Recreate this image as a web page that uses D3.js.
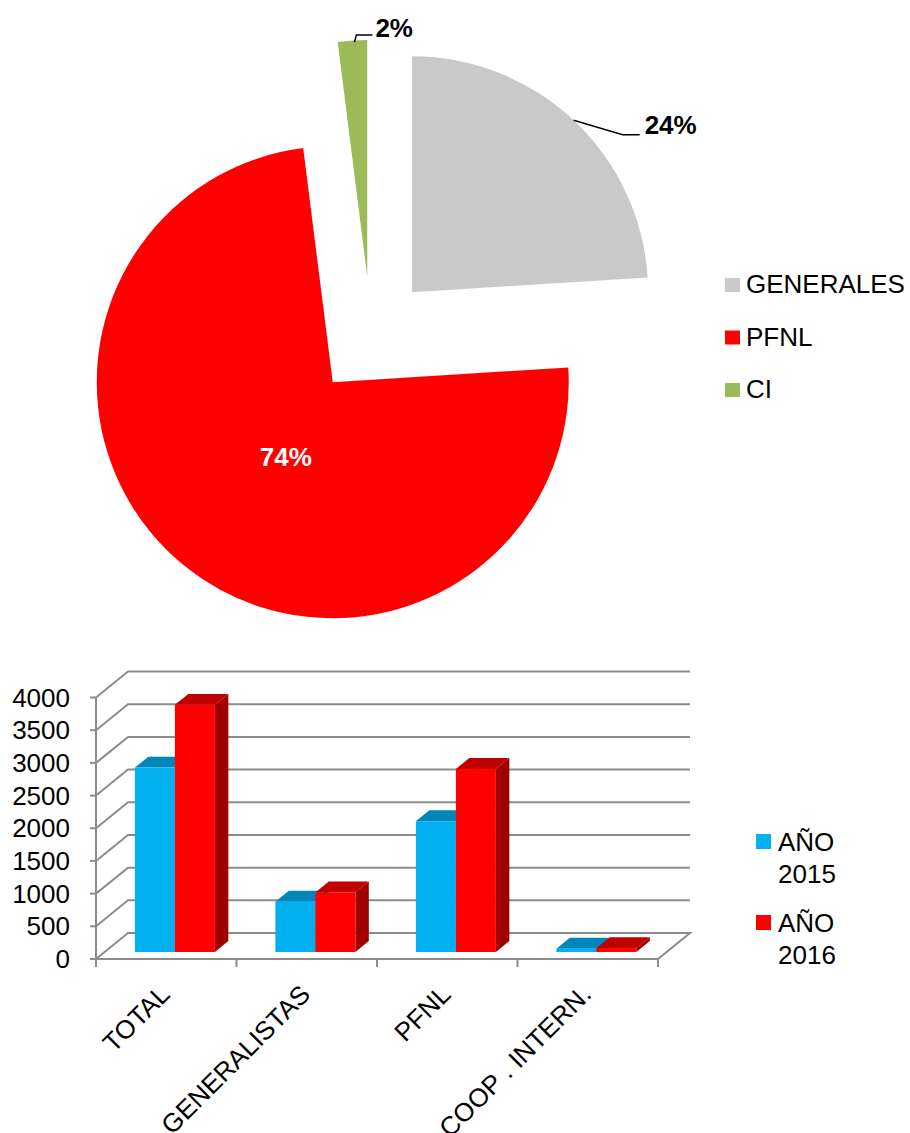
<!DOCTYPE html>
<html>
<head>
<meta charset="utf-8">
<script src="https://cdn.jsdelivr.net/npm/d3@7"></script>
<style>
  html, body { margin: 0; padding: 0; background: #fff; }
  svg { display: block; font-family: "Liberation Sans", Arial, Helvetica, sans-serif; }
</style>
</head>
<body>
<svg id="chart" width="910" height="1133"></svg>
<script>
// ---- Pie: share by programme ----
const pieLabels = ["GENERALES", "PFNL", "CI"];
const pieValues = [24, 74, 2];
const pieColors = ["#C9C9C9", "#FF0000", "#9BBB59"];

// ---- Bars: totals per year ----
const barCategories = ["TOTAL", "GENERALISTAS", "PFNL", "COOP . INTERN."];
const seriesNames = [["AÑO", "2015"], ["AÑO", "2016"]];
const values2015 = [2820, 770, 2000, 50];
const values2016 = [3780, 910, 2800, 60];
const yTicks = [0, 500, 1000, 1500, 2000, 2500, 3000, 3500, 4000];

const svg = d3.select("#chart");

// ================= PIE =================
const cx = 371, cy = 336, R = 236, explode = 60;
const pie = d3.pie().sort(null).startAngle(0).endAngle(2 * Math.PI);
const arcs = pie(pieValues);
const arc = d3.arc().innerRadius(0).outerRadius(R);
const polar = (a, r) => [Math.sin(a) * r, -Math.cos(a) * r];

const pieG = svg.append("g").attr("transform", `translate(${cx},${cy})`);
const slices = pieG.selectAll("g.slice").data(arcs).enter().append("g")
  .attr("class", "slice")
  .attr("transform", d => {
    const [ox, oy] = polar((d.startAngle + d.endAngle) / 2, explode);
    return `translate(${ox},${oy})`;
  });
slices.append("path").attr("d", arc).attr("fill", (d, i) => pieColors[i]);

// labels
function sliceApex(d) { return polar((d.startAngle + d.endAngle) / 2, explode); }

// 24% outside with leader line
{
  const d = arcs[0], mid = (d.startAngle + d.endAngle) / 2;
  const [ax, ay] = sliceApex(d);
  const [px, py] = polar(mid, R);
  const x0 = ax + px, y0 = ay + py;
  const x1 = x0 + 49, y1 = y0 + 14.5, x2 = x1 + 17;
  pieG.append("path").attr("d", `M${x0},${y0}L${x1},${y1}L${x2},${y1}`)
    .attr("fill", "none").attr("stroke", "#000").attr("stroke-width", 1.5);
  pieG.append("text").attr("x", x2 + 5).attr("y", y1 - 1)
    .attr("font-size", 26).attr("font-weight", "bold").text(d3.format(".0f")(d.data) + "%");
}
// 2% outside with leader line
{
  const d = arcs[2], mid = (d.startAngle + d.endAngle) / 2;
  const [ax, ay] = sliceApex(d);
  const [px, py] = polar(mid, R);
  const x0 = ax + px + 2, y0 = ay + py + 1.5;
  const x1 = x0 + 2, y1 = y0 - 7, x2 = x1 + 16;
  pieG.append("path").attr("d", `M${x0},${y0}L${x1},${y1}L${x2},${y1}`)
    .attr("fill", "none").attr("stroke", "#000").attr("stroke-width", 1.5);
  pieG.append("text").attr("x", x2 + 3).attr("y", y1 + 1.5)
    .attr("font-size", 26).attr("font-weight", "bold").text(d.data + "%");
}
// 74% inside
{
  const d = arcs[1], mid = (d.startAngle + d.endAngle) / 2;
  const [ax, ay] = sliceApex(d);
  const [px, py] = polar(mid, 80);
  pieG.append("text").attr("x", ax + px + 4).attr("y", ay + py + 22)
    .attr("text-anchor", "middle").attr("font-size", 26).attr("font-weight", "bold")
    .attr("fill", "#fff").text(d.data + "%");
}

// pie legend
const pieLeg = svg.append("g").attr("transform", "translate(725,293)");
pieLabels.forEach((lab, i) => {
  const g = pieLeg.append("g").attr("transform", `translate(0,${i * 52.5})`);
  g.append("rect").attr("x", 0).attr("y", -15).attr("width", 15).attr("height", 14).attr("fill", pieColors[i]);
  g.append("text").attr("x", 21).attr("y", 0).attr("font-size", 26).text(lab);
});

// ================= 3D BARS =================
const frontLeft = 96, frontRight = 658;
const depthX = 32, depthY = -26;
const x = d3.scaleBand().domain(barCategories).range([frontLeft, frontRight]).paddingInner(0).paddingOuter(0);
const y = d3.scaleLinear().domain([0, 4000]).range([959, 697.5]);

const gridColor = "#8C8C8C";
const bars = svg.append("g");

// gridlines (left wall + back wall)
yTicks.forEach(v => {
  const yy = y(v);
  bars.append("path")
    .attr("d", `M${frontLeft},${yy}L${frontLeft + depthX},${yy + depthY}L${frontRight + depthX},${yy + depthY}` +
      (v === 0 ? `L${frontRight},${yy}` : ""))
    .attr("fill", "none").attr("stroke", gridColor).attr("stroke-width", 2);
});

// front value axis with ticks
bars.append("line").attr("x1", frontLeft).attr("x2", frontLeft)
  .attr("y1", y(4000)).attr("y2", y(0)).attr("stroke", gridColor).attr("stroke-width", 2);
yTicks.forEach(v => {
  bars.append("line").attr("x1", frontLeft - 6).attr("x2", frontLeft)
    .attr("y1", y(v)).attr("y2", y(v)).attr("stroke", gridColor).attr("stroke-width", 2);
  bars.append("text").attr("x", 70).attr("y", y(v) + 9)
    .attr("text-anchor", "end").attr("font-size", 26).attr("fill", "#000").text(v);
});

// front category axis with ticks
bars.append("line").attr("x1", frontLeft - 6).attr("x2", frontRight)
  .attr("y1", y(0)).attr("y2", y(0)).attr("stroke", gridColor).attr("stroke-width", 2);
const tickXs = barCategories.map(c => x(c)).concat([frontRight]);
tickXs.forEach(tx => {
  bars.append("line").attr("x1", tx).attr("x2", tx).attr("y1", y(0)).attr("y2", y(0) + 8)
    .attr("stroke", gridColor).attr("stroke-width", 2);
});

// bar geometry: front face sits part-way into the floor depth
const f0 = 0.27, fDepth = 0.42;
const shiftX = f0 * depthX, shiftY = f0 * depthY;
const bdx = fDepth * depthX, bdy = fDepth * depthY;
const barW = 40;
const seriesStyle = [
  { values: values2015, front: "#00B0F0", top: "#0086B8", side: "#00709A" },
  { values: values2016, front: "#FF0000", top: "#C00000", side: "#A00000" }
];

barCategories.forEach((c, ci) => {
  seriesStyle.forEach((s, si) => {
    const xl = x(c) + (x.bandwidth() - 2 * barW) / 2 + shiftX + si * barW;
    const yb = y(0) + shiftY;
    const yt = y(s.values[ci]) + shiftY;
    const g = bars.append("g");
    g.append("path").attr("fill", s.side)
      .attr("d", `M${xl + barW},${yt}L${xl + barW + bdx},${yt + bdy}L${xl + barW + bdx},${yb + bdy}L${xl + barW},${yb}Z`);
    g.append("path").attr("fill", s.top)
      .attr("d", `M${xl},${yt}L${xl + barW},${yt}L${xl + barW + bdx},${yt + bdy}L${xl + bdx},${yt + bdy}Z`);
    g.append("rect").attr("x", xl).attr("y", yt).attr("width", barW).attr("height", Math.max(0, yb - yt))
      .attr("fill", s.front);
  });
});

// rotated category labels
barCategories.forEach(c => {
  const ax = x(c) + x.bandwidth() / 2 + 5, ay = 996;
  svg.append("text").attr("transform", `translate(${ax},${ay}) rotate(-45)`)
    .attr("text-anchor", "end").attr("font-size", 26).text(c);
});

// bar legend
const barLeg = svg.append("g").attr("transform", "translate(756,851)");
seriesNames.forEach((lines, i) => {
  const g = barLeg.append("g").attr("transform", `translate(0,${i * 81})`);
  g.append("rect").attr("x", 0).attr("y", -17).attr("width", 15).attr("height", 15).attr("fill", seriesStyle[i].front);
  lines.forEach((t, li) => {
    g.append("text").attr("x", 22).attr("y", li * 32).attr("font-size", 26).text(t);
  });
});
</script>
</body>
</html>
